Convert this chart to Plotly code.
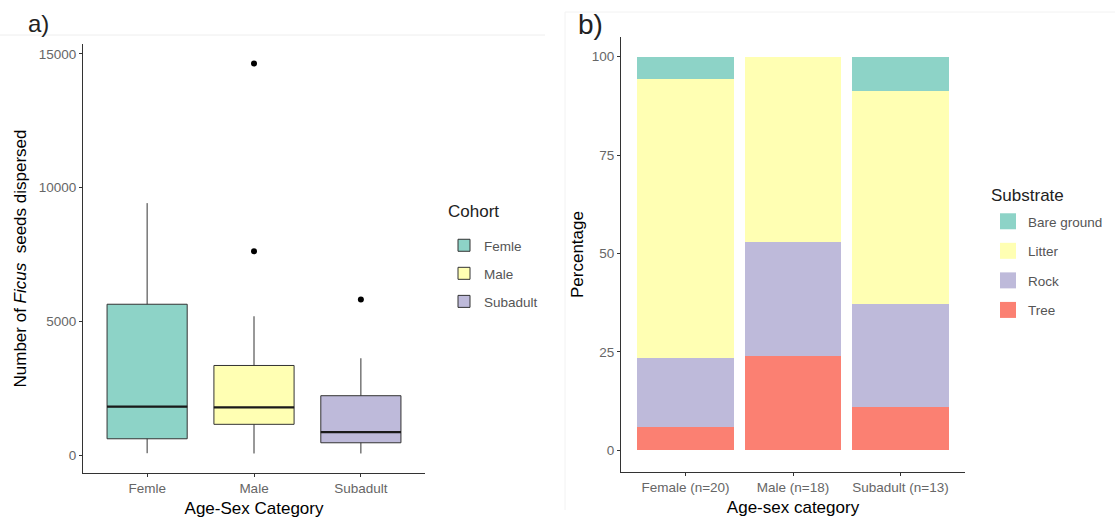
import plotly.graph_objects as go

# ---------------- Data ----------------
# Panel a: boxplot summary of Ficus seeds dispersed per cohort
cohorts = ["Femle", "Male", "Subadult"]
q1 = [610, 1150, 460]
median = [1810, 1780, 860]
q3 = [5640, 3350, 2220]
lower_whisker = [70, 60, 60]
upper_whisker = [9420, 5190, 3620]
outlier_cohort = ["Male", "Male", "Subadult"]
outlier_values = [14640, 7620, 5820]
cohort_colors = ["#8DD3C7", "#FFFFB3", "#BEBADA"]

# Panel b: substrate percentages per age-sex category
categories = ["Female (n=20)", "Male (n=18)", "Subadult (n=13)"]
substrates = ["Bare ground", "Litter", "Rock", "Tree"]
pct_tree = [5.9, 23.9, 11.0]
pct_rock = [17.5, 29.1, 26.2]
pct_litter = [71.0, 47.0, 54.2]
pct_bare = [5.6, 0.0, 8.6]
substrate_colors = {"Bare ground": "#8DD3C7", "Litter": "#FFFFB3",
                    "Rock": "#BEBADA", "Tree": "#FB8072"}

FONT = "Arial, Liberation Sans, sans-serif"
LINE = "#333333"
TICK_SIZE = 13.5
TITLE_SIZE = 17

fig = go.Figure()

# ---------------- Panel a ----------------
xpos_a = [i + 1 for i in range(len(cohorts))]
for i, c in enumerate(cohorts):
    fig.add_trace(go.Box(
        x=[xpos_a[i]], q1=[q1[i]], median=[median[i]], q3=[q3[i]],
        lowerfence=[lower_whisker[i]], upperfence=[upper_whisker[i]],
        width=0.75, whiskerwidth=0, fillcolor=cohort_colors[i],
        line=dict(color=LINE, width=1), name=c, boxpoints=False,
        xaxis="x", yaxis="y", legend="legend",
        legendgroup=c, hoverinfo="skip"))
    # thick median line
    fig.add_trace(go.Scatter(
        x=[xpos_a[i] - 0.375, xpos_a[i] + 0.375], y=[median[i], median[i]],
        mode="lines", line=dict(color="#1a1a1a", width=2.2),
        showlegend=False, xaxis="x", yaxis="y", hoverinfo="skip"))

fig.add_trace(go.Scatter(
    x=[xpos_a[cohorts.index(c)] for c in outlier_cohort], y=outlier_values,
    mode="markers", marker=dict(color="black", size=6),
    showlegend=False, xaxis="x", yaxis="y", hoverinfo="skip"))

# ---------------- Panel b ----------------
xpos_b = [i + 1 for i in range(len(categories))]
stack = [("Tree", pct_tree), ("Rock", pct_rock),
         ("Litter", pct_litter), ("Bare ground", pct_bare)]
for name, vals in stack:
    fig.add_trace(go.Bar(
        x=xpos_b, y=vals, width=0.9, name=name,
        marker=dict(color=substrate_colors[name], line=dict(width=0)),
        showlegend=False, xaxis="x2", yaxis="y2", hoverinfo="skip"))

# legend keys for panel b (square keys, ggplot-like order)
for name in substrates:
    fig.add_trace(go.Scatter(
        x=[None], y=[None], mode="markers", name=name,
        marker=dict(symbol="square", size=16, color=substrate_colors[name]),
        xaxis="x2", yaxis="y2", legend="legend2", legendgroup=name))

H = 523.0
W = 1115.0
def py(p):
    return 1 - p / H
def px(p):
    return p / W

axis_common = dict(showline=True, linecolor=LINE, linewidth=1, ticks="outside",
                   ticklen=3, tickcolor=LINE, showgrid=False, zeroline=False,
                   automargin=False,
                   tickfont=dict(family=FONT, size=TICK_SIZE, color="#666666"))

fig.update_layout(
    width=1115, height=523, margin=dict(l=0, r=0, t=0, b=0, autoexpand=False),
    paper_bgcolor="white", plot_bgcolor="white",
    font=dict(family=FONT, color="black"),
    barmode="stack",
    xaxis=dict(domain=[px(83), px(425)], range=[0.4, 3.6],
               tickvals=xpos_a, ticktext=cohorts, anchor="y",
               title=dict(text="Age-Sex Category", font=dict(size=TITLE_SIZE), standoff=6),
               **axis_common),
    yaxis=dict(domain=[py(473), py(44)], range=[-670, 15370],
               tickvals=[0, 5000, 10000, 15000], tickformat="d", anchor="x",
               title=dict(text="Number of <i>Ficus</i>  seeds dispersed",
                          font=dict(size=TITLE_SIZE), standoff=7),
               **axis_common),
    xaxis2=dict(domain=[px(621), px(965)], range=[0.4, 3.6],
                tickvals=xpos_b, ticktext=categories, anchor="y2",
                title=dict(text="Age-sex category", font=dict(size=TITLE_SIZE), standoff=6),
                **axis_common),
    yaxis2=dict(domain=[py(472), py(37)], range=[-5.5, 105],
                tickvals=[0, 25, 50, 75, 100], anchor="x2",
                title=dict(text="Percentage", font=dict(size=TITLE_SIZE), standoff=3),
                **axis_common),
    legend=dict(x=px(444), y=py(230), xanchor="left", yanchor="top",
                font=dict(size=13.5, family=FONT, color="#555555"),
                tracegroupgap=7.5, bgcolor="rgba(0,0,0,0)"),
    legend2=dict(x=px(988), y=py(206), xanchor="left", yanchor="top",
                 font=dict(size=13.5, family=FONT, color="#555555"),
                 tracegroupgap=9, bgcolor="rgba(0,0,0,0)"),
    annotations=[
        dict(text="a)", x=px(38), y=py(23), xref="paper", yref="paper",
             xanchor="center", yanchor="middle",
             showarrow=False, font=dict(size=24, family=FONT, color="#222")),
        dict(text="b)", x=px(590), y=py(24), xref="paper", yref="paper",
             xanchor="center", yanchor="middle",
             showarrow=False, font=dict(size=28, family=FONT, color="#222")),
        dict(text="Cohort", x=px(446), y=py(212), xref="paper", yref="paper",
             xanchor="left", yanchor="middle",
             showarrow=False, font=dict(size=17, family=FONT, color="#222")),
        dict(text="Substrate", x=px(989), y=py(195), xref="paper", yref="paper",
             xanchor="left", yanchor="middle",
             showarrow=False, font=dict(size=17, family=FONT, color="#222")),
    ],
    shapes=[
        dict(type="line", xref="paper", yref="paper", x0=0, x1=px(545),
             y0=py(35), y1=py(35), line=dict(color="#EEEEEE", width=1)),
        dict(type="line", xref="paper", yref="paper", x0=px(565), x1=1,
             y0=py(12), y1=py(12), line=dict(color="#F2F2F2", width=1)),
        dict(type="line", xref="paper", yref="paper", x0=px(565), x1=px(565),
             y0=py(12), y1=py(510), line=dict(color="#F2F2F2", width=1)),
    ],
)

fig.write_html("out.html", config={"displayModeBar": False},
               post_script="document.body.style.margin='0';document.body.style.overflow='hidden';")
